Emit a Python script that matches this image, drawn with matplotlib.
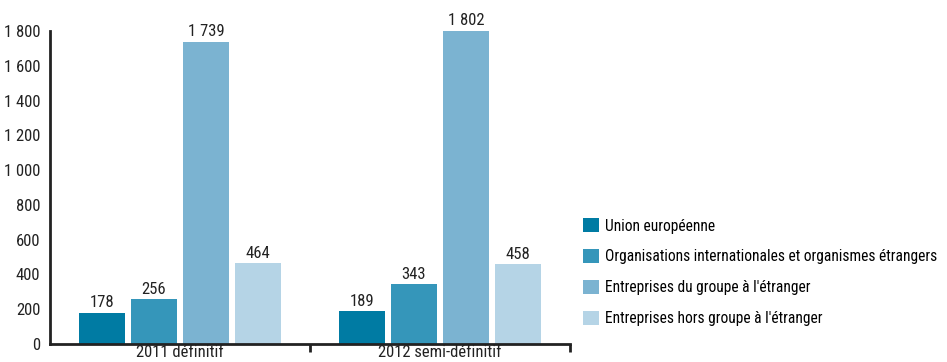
import matplotlib
matplotlib.use("Agg")
import matplotlib.pyplot as plt
from matplotlib.patches import Patch
import numpy as np

plt.rcParams['font.family'] = ['Roboto Condensed', 'DejaVu Sans']

categories = ["2011 définitif", "2012 semi-définitif"]
series = ["Union européenne",
          "Organisations internationales et organismes étrangers",
          "Entreprises du groupe à l'étranger",
          "Entreprises hors groupe à l'étranger"]
values = [[178, 189], [256, 343], [1739, 1802], [464, 458]]
colors = ["#007ba3", "#3596ba", "#7bb3d1", "#b5d4e6"]
yticks = [0, 200, 400, 600, 800, 1000, 1200, 1400, 1600, 1800]

def fmt(v):
    return f"{v:,}".replace(",", " ")

fig = plt.figure(figsize=(9.47, 3.62), dpi=100)
ax = fig.add_axes([50/947, 1-344/362, 520/947, 313/362])

x = np.arange(len(categories))
step = 0.2
width = 0.18
for i, (s, vals, c) in enumerate(zip(series, values, colors)):
    pos = x + (i - 1.5) * step
    ax.bar(pos, vals, width=width, color=c, label=s)
    for p, v in zip(pos, vals):
        ax.text(p, v + 15, fmt(v), ha='center', va='bottom', fontsize=12, color='#222222')

ax.set_xlim(-0.5, 1.5)
ax.set_ylim(0, 1800)
ax.set_yticks(yticks)
ax.set_yticklabels([fmt(t) for t in yticks], fontsize=12, color='#222222')
ax.tick_params(axis='y', length=0, pad=7)
ax.set_xticks(x)
ax.set_xticklabels(categories, fontsize=12, color='#222222')
ax.tick_params(axis='x', length=0, pad=1)
ax.set_xticks([0.5, 1.5], minor=True)
ax.tick_params(axis='x', which='minor', length=6, width=2, color='#222222', direction='out')

for sp in ['top', 'right']:
    ax.spines[sp].set_visible(False)
ax.spines['left'].set_linewidth(2)
ax.spines['bottom'].set_linewidth(2)
ax.spines['left'].set_color('#222222')
ax.spines['bottom'].set_color('#222222')

handles = [Patch(facecolor=c) for c in colors]
fig.legend(handles, series, loc='upper left', bbox_to_anchor=(577/947, 1-212/362),
           frameon=False, fontsize=11.2, handlelength=1.0, handleheight=1.0,
           handletextpad=0.4, labelspacing=1.0, borderaxespad=0)

fig.savefig("out.png", dpi=100)
